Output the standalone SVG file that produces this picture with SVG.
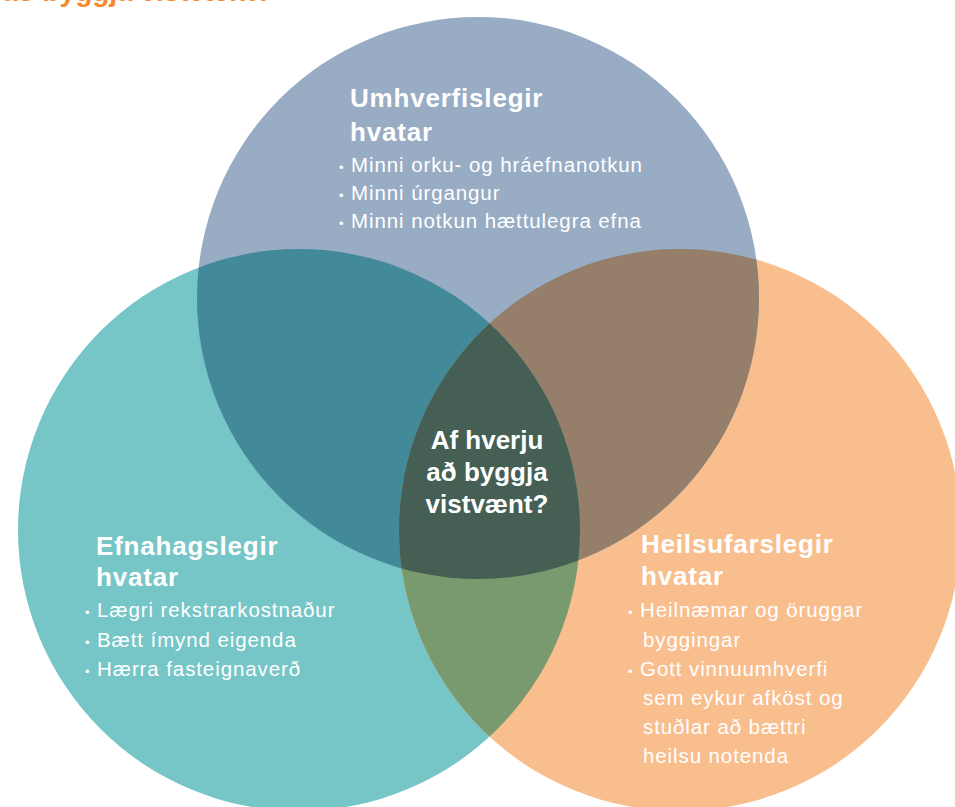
<svg xmlns="http://www.w3.org/2000/svg" width="955" height="807" viewBox="0 0 955 807">
<style>
.h{font-family:"Liberation Sans",Arial,sans-serif;font-weight:bold;font-size:26px;fill:#fff;letter-spacing:0.8px}
.b{font-family:"Liberation Sans",Arial,sans-serif;font-size:20.5px;fill:#fff;letter-spacing:0.9px}
.d{font-size:13px}
.c{font-family:"Liberation Sans",Arial,sans-serif;font-weight:bold;font-size:26px;fill:#fff;text-anchor:middle}
.t{font-family:"Liberation Sans",Arial,sans-serif;font-weight:bold;font-size:28px;fill:#f58a28}
</style>
<defs>
<clipPath id="cB"><circle cx="478" cy="298" r="281"/></clipPath>
<clipPath id="cT"><circle cx="299" cy="530" r="281"/></clipPath>
<clipPath id="cO"><circle cx="680" cy="530" r="281"/></clipPath>
<clipPath id="cBT" clip-path="url(#cT)"><circle cx="478" cy="298" r="281"/></clipPath>
</defs>
<rect width="955" height="807" fill="#fff"/>
<text class="t" x="2" y="1">að byggja vistvænt?</text>
<g id="circles">
<circle id="teal" cx="299" cy="530" r="281" fill="#76c6c7"/>
<circle id="orange" cx="680" cy="530" r="281" fill="#f9be8e"/>
<circle id="blue" cx="478" cy="298" r="281" fill="#98acc4"/>
<circle cx="299" cy="530" r="281" fill="#42899a" clip-path="url(#cB)"/>
<circle cx="680" cy="530" r="281" fill="#957f6b" clip-path="url(#cB)"/>
<circle cx="680" cy="530" r="281" fill="#799a6f" clip-path="url(#cT)"/>
<circle cx="680" cy="530" r="281" fill="#455f54" clip-path="url(#cBT)"/>
</g>
<g id="env">
<text class="h" x="350" y="107">Umhverfislegir</text>
<text class="h" x="350" y="141">hvatar</text>
<text class="b" x="339" y="172"><tspan class="d">•</tspan> Minni orku- og hráefnanotkun</text>
<text class="b" x="339" y="200"><tspan class="d">•</tspan> Minni úrgangur</text>
<text class="b" x="339" y="228"><tspan class="d">•</tspan> Minni notkun hættulegra efna</text>
</g>
<g id="center">
<text class="c" x="487" y="449">Af hverju</text>
<text class="c" x="487" y="481">að byggja</text>
<text class="c" x="487" y="513">vistvænt?</text>
</g>
<g id="econ">
<text class="h" x="96" y="555">Efnahagslegir</text>
<text class="h" x="96" y="586">hvatar</text>
<text class="b" x="85" y="617"><tspan class="d">•</tspan> Lægri rekstrarkostnaður</text>
<text class="b" x="85" y="647"><tspan class="d">•</tspan> Bætt ímynd eigenda</text>
<text class="b" x="85" y="676"><tspan class="d">•</tspan> Hærra fasteignaverð</text>
</g>
<g id="health">
<text class="h" x="641" y="553">Heilsufarslegir</text>
<text class="h" x="641" y="585">hvatar</text>
<text class="b" x="628" y="617"><tspan class="d">•</tspan> Heilnæmar og öruggar</text>
<text class="b" x="643" y="647">byggingar</text>
<text class="b" x="628" y="676"><tspan class="d">•</tspan> Gott vinnuumhverfi</text>
<text class="b" x="643" y="705">sem eykur afköst og</text>
<text class="b" x="643" y="734">stuðlar að bættri</text>
<text class="b" x="643" y="763">heilsu notenda</text>
</g>
</svg>
